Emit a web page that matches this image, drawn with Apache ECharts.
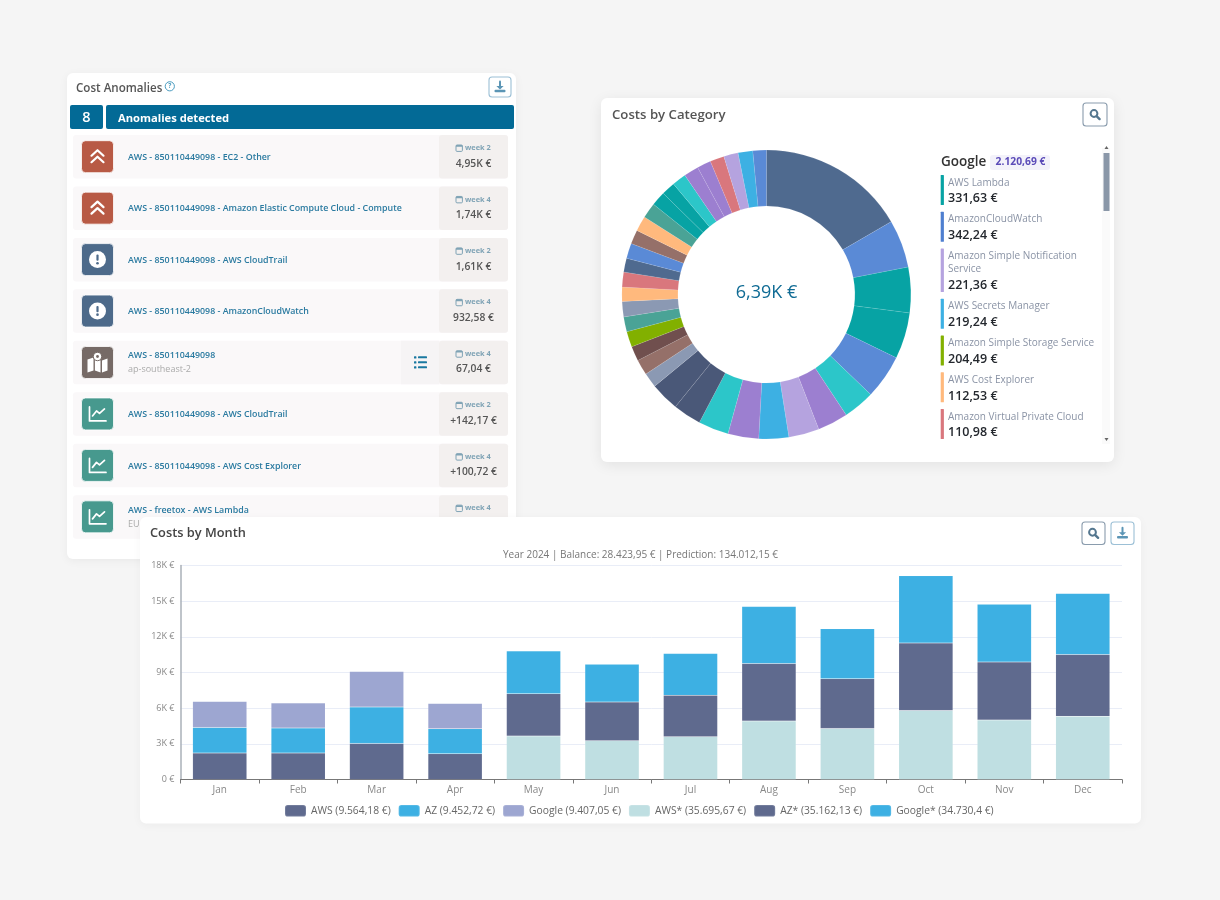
<!DOCTYPE html>
<html>
<head>
<meta charset="utf-8">
<style>html,body{margin:0;padding:0;background:#f5f5f5}#c{width:1220px;height:900px}</style>
<script src="https://cdn.jsdelivr.net/npm/echarts@6/dist/echarts.min.js"></script>
</head>
<body>
<div id="c"></div>
<script>
// ---- bar chart data
var months = ['Jan','Feb','Mar','Apr','May','Jun','Jul','Aug','Sep','Oct','Nov','Dec'];
var barTicks = [0,3000,6000,9000,12000,15000,18000];
var awsActual    = [2220,2220,3030,2160,null,null,null,null,null,null,null,null];
var azActual     = [2160,2110,3060,2110,null,null,null,null,null,null,null,null];
var googleActual = [2190,2100,3000,2130,null,null,null,null,null,null,null,null];
var awsPred      = [null,null,null,null,3650,3260,3600,4920,4300,5810,5000,5310];
var azPred       = [null,null,null,null,3570,3260,3480,4830,4180,5680,4890,5200];
var googlePred   = [null,null,null,null,3590,3170,3510,4800,4190,5640,4860,5140];
var barNames = ['AWS (9.564,18 €)','AZ (9.452,72 €)','Google (9.407,05 €)','AWS* (35.695,67 €)','AZ* (35.162,13 €)','Google* (34.730,4 €)'];
var barColors = ['#5f6a8e','#3db0e3','#9da6d1','#bfdfe2','#5f6a8e','#3db0e3'];
var barSubtitle = 'Year 2024 | Balance: 28.423,95 € | Prediction: 134.012,15 €';

// ---- donut data
var donutValues = [1060,343,325,331,316,225,218,218,213,220,217,202,206,105,112,105,112,106,110,101,107,99,108,101,108,110,103,98,101,106,99,101,103,105,96];
var donutColors = ['#4f6a8f','#5a8ad6','#07a3a4','#07a3a4','#5a8ad6','#2cc6c9','#9c7fd0','#b5a3df','#3db0e3','#9c7fd0','#2cc6c9','#4a5878','#4a5878','#8b99b3','#957069','#704f4e','#82b000','#4aa396','#8b99b3','#ffb97d','#d9777d','#4f6a8f','#5a8ad6','#957069','#ffb97d','#4aa396','#07a3a4','#07a3a4','#2cc6c9','#9c7fd0','#9c7fd0','#d9777d','#b5a3df','#3db0e3','#5a8ad6'];
var donutCenter = '6,39K €';

// ---- category list
var catHeader = 'Google';
var catTotal = '2.120,69 €';
var catNames = [['AWS Lambda'],['AmazonCloudWatch'],['Amazon Simple Notification','Service'],['AWS Secrets Manager'],['Amazon Simple Storage Service'],['AWS Cost Explorer'],['Amazon Virtual Private Cloud']];
var catValues = ['331,63 €','342,24 €','221,36 €','219,24 €','204,49 €','112,53 €','110,98 €'];
var catColors = ['#07a3a4','#4f7fd0','#b5a3df','#3db0e3','#82b000','#ffb97d','#d9777d'];

// ---- anomalies list
var anomalyTitles = ['AWS - 850110449098 - EC2 - Other','AWS - 850110449098 - Amazon Elastic Compute Cloud - Compute','AWS - 850110449098 - AWS CloudTrail','AWS - 850110449098 - AmazonCloudWatch','AWS - 850110449098','AWS - 850110449098 - AWS CloudTrail','AWS - 850110449098 - AWS Cost Explorer','AWS - freetox - AWS Lambda'];
var anomalySubs = ['','','','','ap-southeast-2','','','EU'];
var anomalyWeeks = ['week 2','week 4','week 2','week 4','week 4','week 2','week 4','week 4'];
var anomalyValues = ['4,95K €','1,74K €','1,61K €','932,58 €','67,04 €','+142,17 €','+100,72 €',''];
var anomalyKinds = ['up','up','alert','alert','map','trend','trend','trend'];

// ---- drawing helpers
var FONT = "'Open Sans'";
var els = [], zOrder = 0, layer = -10;
function add(o){ o.z = layer; o.z2 = ++zOrder; o.silent = true; els.push(o); }
function rect(x,y,w,h,r,fill,stroke,lw,sh){
  var st = {fill:fill, stroke:stroke||null, lineWidth:lw||0};
  if(sh){ st.shadowBlur=sh[0]; st.shadowColor=sh[1]; st.shadowOffsetY=sh[2]; }
  add({type:'rect',shape:{x:x,y:y,width:w,height:h,r:r},style:st});
}
function text(s,x,y,font,fill,align){
  add({type:'text',x:x,y:y,style:{text:s,font:font,fill:fill,textAlign:align||'left',textVerticalAlign:'middle'}});
}
function poly(pts,stroke,lw){ add({type:'polyline',shape:{points:pts},style:{stroke:stroke,lineWidth:lw,fill:'none',lineCap:'round',lineJoin:'round'}}); }
function gon(pts,fill){ add({type:'polygon',shape:{points:pts},style:{fill:fill}}); }
function circ(x,y,r,fill,stroke,lw){ add({type:'circle',shape:{cx:x,cy:y,r:r},style:{fill:fill,stroke:stroke||null,lineWidth:lw||0}}); }

function dlButton(x,y,w,h){
  rect(x,y,w,h,3,'#fff','#9cc0d6',1.1);
  var c=x+w/2, m=y+h/2;
  poly([[c,m-5.5],[c,m]],'#5b95b5',2);
  gon([[c-3.6,m-1],[c+3.6,m-1],[c,m+2.6]],'#5b95b5');
  rect(c-5.5,m+2.8,11,2.4,1,'#5b95b5');
}
function zoomButton(x,y,w,h){
  rect(x,y,w,h,3,'#fff','#8a9cad',1.1);
  var c=x+w/2, m=y+h/2;
  circ(c-1,m-1,3.4,'none','#55778f',2);
  poly([[c+1.8,m+1.8],[c+4.6,m+4.6]],'#55778f',2.4);
}
function icon(kind,x,y){
  var col={up:'#b85a45',alert:'#4d6a8a',map:'#766a66',trend:'#47998e'}[kind];
  rect(x,y,32,32,4,col,'#fff',0.8);
  var c=x+16,m=y+16;
  if(kind==='up'){
    poly([[c-6,m-1],[c,m-6.5],[c+6,m-1]],'#fff',2.2);
    poly([[c-6,m+5.5],[c,m],[c+6,m+5.5]],'#fff',2.2);
  } else if(kind==='alert'){
    circ(c,m,8.5,'#fff');
    rect(c-1.1,m-5,2.2,6.2,1,col);
    circ(c,m+3.6,1.3,col);
  } else if(kind==='map'){
    gon([[c-10,m-3],[c-4,m-5],[c-4,m+8],[c-10,m+10]],'#fff');
    gon([[c-2.6,m-4],[c+3,m-2],[c+3,m+10],[c-2.6,m+8]],'#fff');
    gon([[c+4.5,m-2],[c+10,m-4],[c+10,m+8],[c+4.5,m+10]],'#fff');
    circ(c,m-6,4.2,'#fff',col,1);
    circ(c,m-6,1.4,col);
  } else {
    poly([[c-8,m-7],[c-8,m+7],[c+8.5,m+7]],'#fff',1.7);
    poly([[c-5,m+2],[c-1,m-3],[c+2,m-0.5],[c+7,m-5]],'#fff',1.7);
  }
}
function calendar(x,y){
  rect(x,y-3,6.4,6.4,1,'none','#7fa3b5',1);
  rect(x,y-3,6.4,1.8,0.5,'#7fa3b5');
}

// ---- left card (behind everything)
layer = -10;
rect(67,73,449,486,6,'#fff',null,0,[10,'rgba(0,0,0,0.05)',2]);
text('Cost Anomalies',76,89,'600 11.6px '+FONT,'#555');
circ(169.8,86.3,4.6,'none','#4a9cc0',1);
text('?',169.8,86.3,'700 6.5px '+FONT,'#4a9cc0','center');
dlButton(489,77,22,20);
rect(70,105,33,24,2,'#036a96');
rect(106,105,408,24,2,'#036a96');
text('8',86.5,118.3,'600 14.5px '+FONT,'#fff','center');
text('Anomalies detected',118,118.5,'700 11.2px '+FONT,'#fff');
anomalyTitles.forEach(function(t,i){
  var y = 135 + i*51.45;
  rect(73,y,435,43.5,3,'#faf8f9');
  rect(439,y,69,43.5,3,'#f3f0ef');
  icon(anomalyKinds[i],81.5,y+5.7);
  if(anomalySubs[i]){
    text(t,128,y+15,'600 8.85px '+FONT,'#2a7aa0');
    text(anomalySubs[i],128,y+29,'400 9px '+FONT,'#aaaaaa');
  } else {
    text(t,128,y+22.5,'600 8.85px '+FONT,'#2a7aa0');
  }
  if(i===4){
    rect(401,y,38,43.5,0,'#f6f4f5');
    [-5,0,5].forEach(function(d){
      rect(414,y+21.5+d-1.1,2.4,2.4,0.6,'#1a78a0');
      rect(418,y+21.5+d-1,9,2,0.6,'#1a78a0');
    });
  }
  calendar(456,y+13);
  text(anomalyWeeks[i],465,y+13,'700 7.4px '+FONT,'#7fa3b5');
  if(anomalyValues[i]) text(anomalyValues[i],473.5,y+28.7,'600 10.3px '+FONT,'#555','center');
});

// ---- right card
layer = -9;
rect(601,98,513,364,6,'#fff',null,0,[14,'rgba(0,0,0,0.08)',3]);
text('Costs by Category',612,115,'600 13.2px '+FONT,'#555');
zoomButton(1083,103,24,23);
text(donutCenter,766.5,292.5,'400 18px '+FONT,'#0f6b94','center');
text(catHeader,941,162,'600 13.5px '+FONT,'#333');
rect(990,155,60,15,3,'#f3f2fa');
text(catTotal,1020.5,162.5,'700 10.3px '+FONT,'#5b4bb8','center');
var cy = 175;
catNames.forEach(function(lines,i){
  var extra = (lines.length-1)*13.3;
  rect(940.7,cy,3.2,30+extra,0.5,catColors[i]);
  lines.forEach(function(l,j){ text(l,948,cy+7.7+j*13,'400 10px '+FONT,'#8a93a5'); });
  text(catValues[i],948,cy+23.7+extra,'600 12.5px '+FONT,'#24282e');
  cy += 36.8 + extra;
});
rect(1102,148,8,296,0,'#fafafa');
rect(1103.5,153,6,58,0,'#8a97a8');
gon([[1106.5,146],[1104.5,149],[1108.5,149]],'#666');
gon([[1106.5,441],[1104.5,438],[1108.5,438]],'#666');

// ---- bottom card
layer = -8;
rect(140,517,1001,306.5,6,'#fff',null,0,[10,'rgba(0,0,0,0.04)',2]);
text('Costs by Month',150,533.5,'600 12.8px '+FONT,'#444');
zoomButton(1082,522,23,22.5);
dlButton(1111,522,23,22.5);

// ---- series
var barData = [awsActual,azActual,googleActual,awsPred,azPred,googlePred];
var barSeries = barData.map(function(d,i){
  return {type:'bar',name:barNames[i],stack:'total',data:d,barWidth:'69%',
    itemStyle:{color:barColors[i],borderColor:'rgba(255,255,255,0.12)',borderWidth:0.5}};
});
var pieData = donutValues.map(function(v,i){ return {value:v,itemStyle:{color:donutColors[i]}}; });

var chart = echarts.init(document.getElementById('c'));
chart.setOption({
  animation:false,
  backgroundColor:'#f5f5f5',
  title:{text:barSubtitle,left:635.5,top:545,textAlign:'center',textStyle:{fontFamily:'Open Sans',fontSize:10,fontWeight:'normal',color:'#777'}},
  legend:{show:true,data:barNames,left:284,top:799,itemWidth:21,itemHeight:11.5,itemGap:7,icon:'roundRect',padding:[5,0,5,0],
    textStyle:{fontFamily:'Open Sans',fontSize:10.3,color:'#666'}},
  grid:{left:180.5,right:98,top:565.5,bottom:120.5},
  xAxis:{type:'category',data:months,boundaryGap:true,
    axisLine:{lineStyle:{color:'#777',width:1}},axisTick:{show:true,length:4,lineStyle:{color:'#777'}},
    axisLabel:{fontFamily:'Open Sans',fontSize:10,color:'#888',margin:6}},
  yAxis:{type:'value',min:barTicks[0],max:barTicks[barTicks.length-1],interval:barTicks[1],
    axisLine:{show:true,lineStyle:{color:'#aab0b8',width:1.5}},axisTick:{show:false},
    splitLine:{lineStyle:{color:'#e9edf7'}},
    axisLabel:{fontFamily:'Open Sans',fontSize:9,color:'#888',margin:6,formatter:function(v){return v===0?'0 €':(v/1000)+'K €';}}},
  series:barSeries.concat([{type:'pie',center:[766.4,294.5],radius:[88.5,144.5],startAngle:90,clockwise:true,
    label:{show:false},labelLine:{show:false},silent:true,data:pieData,
    itemStyle:{borderColor:'rgba(255,255,255,0.18)',borderWidth:0.5}}]),
  graphic:{elements:els}
});
</script>
</body>
</html>
